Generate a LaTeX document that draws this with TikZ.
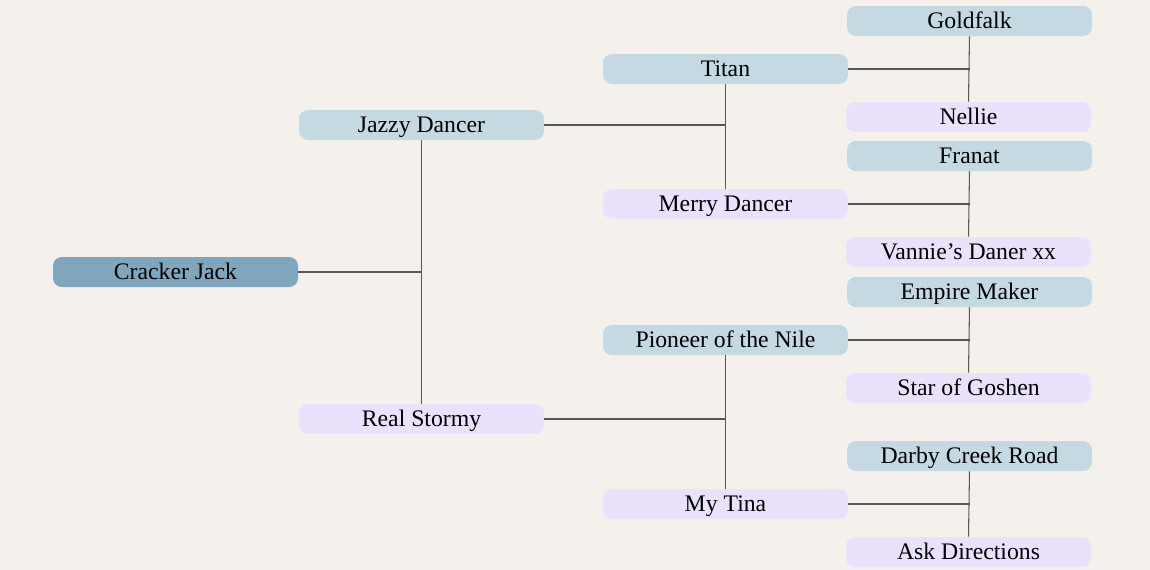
\documentclass[tikz,border=0pt]{standalone}
\usepackage{fontspec}
\setmainfont{Liberation Serif}
\usetikzlibrary{positioning,calc}
\definecolor{pdfundo}{HTML}{F4F1ED}
\definecolor{pdescuro}{HTML}{7FA6BC}
\definecolor{pdazul}{HTML}{C5D9E2}
\definecolor{pdlilas}{HTML}{EAE2FC}
\definecolor{pdlinha}{HTML}{5A5656}
\tikzset{
  pdbase/.style={rounded corners=5pt, minimum width=4.9cm, minimum height=0.6cm,
                 inner sep=0pt, align=center, text height=10.5pt, text depth=2.2pt,
                 font=\fontsize{13.5}{16}\selectfont},
  pdraiz/.style={pdbase, fill=pdescuro},
  pdmacho/.style={pdbase, fill=pdazul},
  pdfemea/.style={pdbase, fill=pdlilas},
  pdliga/.style={draw=pdlinha, line width=0.6pt},
}
\begin{document}
\begin{tikzpicture}
    \fill[pdfundo] (0,0) rectangle (23,-11.4);
    \useasboundingbox (0,0) rectangle (23,-11.4);
    % ---------------- geracao 0 e 1 ----------------
    \node[pdraiz] (cj) at (3.51,-5.44) {Cracker Jack};
    \node[pdmacho] (jd) at (8.43,-2.50) {Jazzy Dancer};
    \node[pdfemea] (rs) at (8.43,-8.38) {Real Stormy};
    % ---------------- geracao 2 ----------------
    \node[pdmacho] (ti) at (14.51,-1.38) {Titan};
    \node[pdfemea] (md) at (14.51,-4.08) {Merry Dancer};
    \node[pdmacho] (pn) at (14.51,-6.80) {Pioneer of the Nile};
    \node[pdfemea] (mt) at (14.51,-10.08) {My Tina};
    % ---------------- geracao 3 ----------------
    \node[pdmacho] (go) at (19.39,-0.42) {Goldfalk};
    \node[pdfemea] (ne) at (19.37,-2.34) {Nellie};
    \node[pdmacho] (fr) at (19.39,-3.12) {Franat};
    \node[pdfemea] (va) at (19.37,-5.04) {Vannie’s Daner xx};
    \node[pdmacho] (em) at (19.39,-5.84) {Empire Maker};
    \node[pdfemea] (sg) at (19.37,-7.76) {Star of Goshen};
    \node[pdmacho] (dc) at (19.39,-9.12) {Darby Creek Road};
    \node[pdfemea] (ad) at (19.37,-11.04) {Ask Directions};
    % ---------------- ligacoes ----------------
    \draw[pdliga] (jd.south) -- (rs.north);
    \draw[pdliga] (cj.east) -- (cj.east -| jd.south);
    \foreach \p/\m/\f in {jd/ti/md, rs/pn/mt, ti/go/ne, md/fr/va, pn/em/sg, mt/dc/ad} {
        \draw[pdliga] (\m.south) -- (\f.north);
        \draw[pdliga] (\p.east) -- (\p.east -| \m.south);
    }
\end{tikzpicture}
\end{document}
